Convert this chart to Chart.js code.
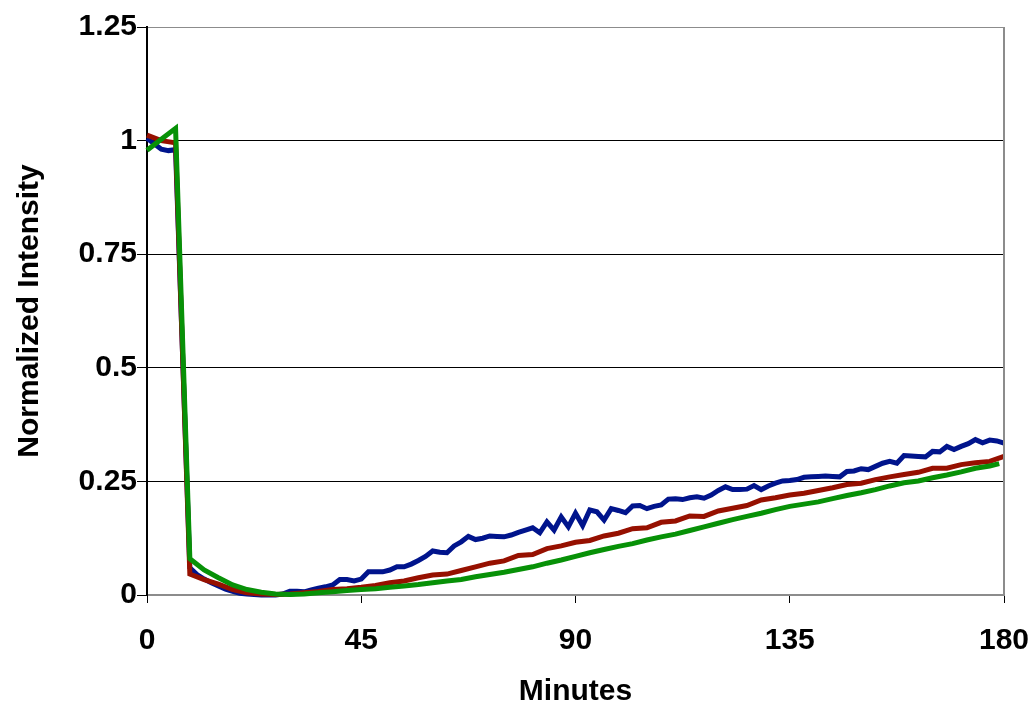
<!DOCTYPE html>
<html>
<head>
<meta charset="utf-8">
<script src="https://cdn.jsdelivr.net/npm/chart.js@4"></script>
<style>
  html, body { margin: 0; padding: 0; background: #fff; }
  #wrap { width: 1034px; height: 706px; }
</style>
</head>
<body>
<div id="wrap"><canvas id="chart" width="1034" height="706"></canvas></div>
<script>
// blue series sampled every 1.5 min (the drop from 6 to 9 is one segment)
const blueMinutes = [0, 1.5, 3, 4.5, 6, 9, 10.5, 12, 13.5, 15, 16.5, 18, 19.5, 21, 22.5, 24, 25.5, 27, 28.5, 30,
  31.5, 33, 34.5, 36, 37.5, 39, 40.5, 42, 43.5, 45, 46.5, 48, 49.5, 51, 52.5, 54, 55.5, 57, 58.5, 60,
  61.5, 63, 64.5, 66, 67.5, 69, 70.5, 72, 73.5, 75, 76.5, 78, 79.5, 81, 82.5, 84, 85.5, 87, 88.5, 90,
  91.5, 93, 94.5, 96, 97.5, 99, 100.5, 102, 103.5, 105, 106.5, 108, 109.5, 111, 112.5, 114, 115.5, 117, 118.5, 120,
  121.5, 123, 124.5, 126, 127.5, 129, 130.5, 132, 133.5, 135, 136.5, 138, 139.5, 141, 142.5, 144, 145.5, 147, 148.5, 150,
  151.5, 153, 154.5, 156, 157.5, 159, 160.5, 162, 163.5, 165, 166.5, 168, 169.5, 171, 172.5, 174, 175.5, 177, 178.5, 180];
const blueValues = [1.005, 0.993, 0.981, 0.978, 0.98, 0.06, 0.045, 0.035, 0.027, 0.02, 0.013, 0.008, 0.004, 0.002, 0.001, 0, 0, 0, 0.002, 0.008,
  0.008, 0.007, 0.011, 0.015, 0.018, 0.022, 0.034, 0.034, 0.031, 0.035, 0.051, 0.051, 0.051, 0.055, 0.062, 0.062, 0.068, 0.076, 0.085, 0.097,
  0.094, 0.093, 0.108, 0.117, 0.129, 0.122, 0.125, 0.13, 0.129, 0.128, 0.132, 0.138, 0.143, 0.148, 0.137, 0.161, 0.143, 0.172, 0.15, 0.18,
  0.153, 0.187, 0.183, 0.165, 0.19, 0.186, 0.181, 0.196, 0.197, 0.19, 0.195, 0.198, 0.211, 0.212, 0.21, 0.214, 0.216, 0.213, 0.22, 0.23,
  0.238, 0.232, 0.232, 0.233, 0.241, 0.232, 0.24, 0.246, 0.251, 0.252, 0.254, 0.259, 0.26, 0.261, 0.262, 0.261, 0.26, 0.272, 0.273, 0.278,
  0.276, 0.283, 0.29, 0.294, 0.29, 0.307, 0.306, 0.305, 0.304, 0.316, 0.315, 0.327, 0.32, 0.327, 0.333, 0.342, 0.335, 0.341, 0.339, 0.334];

const redMinutes = [0, 3, 6, 9, 12, 15, 18, 21, 24, 27, 30, 33, 36, 39, 42, 45, 48, 51, 54, 57, 60,
  63, 66, 69, 72, 75, 78, 81, 84, 87, 90, 93, 96, 99, 102, 105, 108, 111, 114, 117, 120,
  123, 126, 129, 132, 135, 138, 141, 144, 147, 150, 153, 156, 159, 162, 165, 168, 171, 174, 177, 180];
const redValues = [1.012, 1.0, 0.995, 0.046, 0.034, 0.024, 0.012, 0.005, 0.002, 0.001, 0.002, 0.005, 0.008, 0.012, 0.014, 0.017, 0.021, 0.027, 0.031, 0.038, 0.044,
  0.046, 0.054, 0.062, 0.07, 0.075, 0.087, 0.089, 0.102, 0.108, 0.116, 0.12, 0.13, 0.136, 0.146, 0.148, 0.16, 0.163, 0.174, 0.173, 0.185,
  0.191, 0.197, 0.209, 0.214, 0.22, 0.224, 0.23, 0.236, 0.243, 0.246, 0.254, 0.26, 0.265, 0.27, 0.279, 0.279, 0.287, 0.291, 0.294, 0.305];

const greenMinutes = [0, 3, 6, 9, 12, 15, 18, 21, 24, 27, 30, 33, 36, 39, 42, 45, 48, 51, 54, 57, 60,
  63, 66, 69, 72, 75, 78, 81, 84, 87, 90, 93, 96, 99, 102, 105, 108, 111, 114, 117, 120,
  123, 126, 129, 132, 135, 138, 141, 144, 147, 150, 153, 156, 159, 162, 165, 168, 171, 174, 177, 179];
const greenValues = [0.979, 1.003, 1.027, 0.08, 0.055, 0.038, 0.022, 0.012, 0.006, 0.002, 0.001, 0.002, 0.005, 0.007, 0.01, 0.012, 0.014, 0.017, 0.02, 0.023, 0.027,
  0.031, 0.034, 0.04, 0.045, 0.05, 0.056, 0.062, 0.07, 0.077, 0.085, 0.093, 0.1, 0.107, 0.113, 0.121, 0.128, 0.134, 0.142, 0.15, 0.158,
  0.166, 0.173, 0.18, 0.188, 0.195, 0.2, 0.205, 0.212, 0.219, 0.225, 0.232, 0.24, 0.247, 0.251, 0.258, 0.264, 0.271, 0.279, 0.284, 0.289];

const xTicks = [0, 45, 90, 135, 180];
const yTicks = [0, 0.25, 0.5, 0.75, 1, 1.25];

const FONT = "'Liberation Sans', Arial, sans-serif";

function toPoints(xs, ys) {
  return xs.map((x, i) => ({ x, y: ys[i] }));
}

// grey frame on the right side of the plot area
const frameRight = {
  id: 'frameRight',
  afterDatasetsDraw(chart) {
    const { ctx, chartArea } = chart;
    ctx.save();
    ctx.strokeStyle = '#8c8c8c';
    ctx.lineWidth = 2;
    ctx.beginPath();
    ctx.moveTo(chartArea.right, chartArea.top);
    ctx.lineTo(chartArea.right, chartArea.bottom);
    ctx.stroke();
    ctx.restore();
  }
};

function displayChart() {
  const ctx = document.getElementById('chart');

  new Chart(ctx, {
    type: 'line',
    data: {
      datasets: [
        { label: 'green', data: toPoints(greenMinutes, greenValues), borderColor: '#079107' },
        { label: 'red', data: toPoints(redMinutes, redValues), borderColor: '#961000' },
        { label: 'blue', data: toPoints(blueMinutes, blueValues), borderColor: '#00148c' }
      ]
    },
    options: {
      responsive: false,
      animation: false,
      datasets: {
        line: { borderWidth: 5, pointRadius: 0, tension: 0, clip: false, fill: false }
      },
      layout: { padding: { top: 27, right: 30, bottom: 0, left: 0 } },
      plugins: { legend: { display: false }, tooltip: { enabled: false } },
      scales: {
        x: {
          type: 'linear',
          min: 0,
          max: 180,
          afterBuildTicks: (s) => { s.ticks = xTicks.map(v => ({ value: v })); },
          afterFit: (s) => { s.height = 111; s.paddingLeft = 0; s.paddingRight = 0; },
          grid: { drawOnChartArea: false, tickLength: 8, tickColor: '#000', lineWidth: 1 },
          border: { color: '#8c8c8c', width: 2 },
          ticks: { color: '#000', font: { family: FONT, size: 30, weight: 'bold' }, padding: 20, maxRotation: 0 },
          title: { display: true, text: 'Minutes', color: '#000', font: { family: FONT, size: 30, weight: 'bold' }, padding: { top: 0, bottom: -4 } }
        },
        y: {
          min: 0,
          max: 1.25,
          afterBuildTicks: (s) => { s.ticks = yTicks.map(v => ({ value: v })); },
          afterFit: (s) => { s.width = 147; s.paddingTop = 0; s.paddingBottom = 0; },
          grid: {
            tickLength: 10,
            tickColor: '#000',
            lineWidth: 1,
            color: (c) => (c.tick && (c.tick.value === 1.25 || c.tick.value === 0)) ? '#8c8c8c' : '#000'
          },
          border: { color: '#000', width: 2 },
          ticks: {
            color: '#000',
            font: { family: FONT, size: 30, weight: 'bold' },
            padding: 0,
            callback: (v) => String(v)
          },
          title: { display: true, text: 'Normalized Intensity', color: '#000', font: { family: FONT, size: 30, weight: 'bold' }, padding: { top: 12, bottom: 0 } }
        }
      }
    },
    plugins: [frameRight]
  });
}

displayChart();
</script>
</body>
</html>
